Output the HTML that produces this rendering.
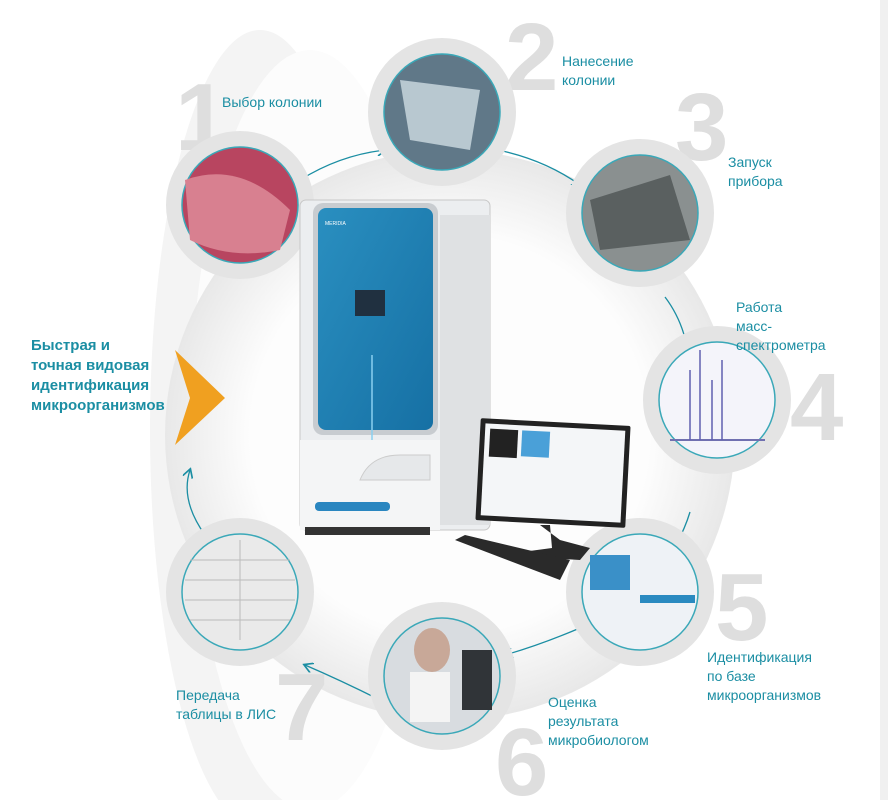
<!DOCTYPE html>
<html><head><meta charset="utf-8"><style>
body{margin:0;background:#fff;width:888px;height:800px;overflow:hidden;font-family:"Liberation Sans",sans-serif}
svg{display:block}
.t{fill:#1b8ea3;font-size:14px}
.n{fill:#dedede;font-size:96px;font-weight:bold}
</style></head><body>
<svg width="888" height="800" viewBox="0 0 888 800">
<defs>
<radialGradient id="bg" cx="0.5" cy="0.5" r="0.5">
<stop offset="0.7" stop-color="#fdfdfd"/><stop offset="1" stop-color="#e8e8e8"/></radialGradient>
<linearGradient id="blue" x1="0" y1="0" x2="1" y2="1"><stop offset="0" stop-color="#2a8fc0"/><stop offset="1" stop-color="#1670a4"/></linearGradient>
<marker id="a" markerWidth="8" markerHeight="8" refX="6" refY="4" orient="auto"><path d="M0,0 L7,4 L0,8" fill="none" stroke="#1b8ea3" stroke-width="1.3"/></marker>
</defs>
<rect width="888" height="800" fill="#fff"/>
<rect x="880" y="0" width="8" height="800" fill="#f0f0f0"/>
<ellipse cx="260" cy="430" rx="110" ry="400" fill="#f4f4f4"/>
<ellipse cx="310" cy="430" rx="120" ry="380" fill="#fcfcfc"/>
<circle cx="450" cy="435" r="285" fill="url(#bg)"/>
<text class="n" x="175" y="150">1</text>
<text class="n" x="505" y="90">2</text>
<text class="n" x="675" y="160">3</text>
<text class="n" x="790" y="440">4</text>
<text class="n" x="715" y="640">5</text>
<text class="n" x="495" y="795">6</text>
<text class="n" x="275" y="740">7</text>
<g fill="none" stroke="#1b8ea3" stroke-width="1.3" marker-end="url(#a)">
<path d="M300,180 Q340,155 385,150"/>
<path d="M498,150 Q545,160 580,185"/>
<path d="M665,297 Q690,330 690,378"/>
<path d="M690,512 Q680,545 655,575"/>
<path d="M580,628 Q540,645 505,655"/>
<path d="M380,700 Q340,680 305,665"/>
<path d="M205,535 Q180,500 190,470"/>
</g>
<g stroke="#e4e4e4" stroke-width="16">
<circle cx="240" cy="205" r="66" fill="#b84560"/>
<circle cx="442" cy="112" r="66" fill="#607888"/>
<circle cx="640" cy="213" r="66" fill="#8a9090"/>
<circle cx="717" cy="400" r="66" fill="#f4f4fa"/>
<circle cx="640" cy="592" r="66" fill="#eef2f6"/>
<circle cx="442" cy="676" r="66" fill="#d8dce0"/>
<circle cx="240" cy="592" r="66" fill="#eaeaea"/>
</g>
<g fill="none" stroke="#3aa8b8" stroke-width="1.5">
<circle cx="240" cy="205" r="58"/><circle cx="442" cy="112" r="58"/><circle cx="640" cy="213" r="58"/>
<circle cx="717" cy="400" r="58"/><circle cx="640" cy="592" r="58"/><circle cx="442" cy="676" r="58"/><circle cx="240" cy="592" r="58"/>
</g>
<path d="M185,180 Q240,160 290,210 L280,250 Q230,260 190,240Z" fill="#d88090"/>
<path d="M400,80 L480,90 L470,150 L410,140Z" fill="#b8c8d0"/>
<path d="M590,200 L670,175 L690,240 L600,250Z" fill="#5a6060"/>
<path d="M670,440 L765,440" stroke="#7070b0" stroke-width="2"/>
<path d="M690,440 V370 M700,440 V350 M712,440 V380 M722,440 V360" stroke="#6060b0" stroke-width="1.5"/>
<rect x="590" y="555" width="40" height="35" fill="#3a90c8"/>
<rect x="640" y="595" width="55" height="8" fill="#2a8ac0"/>
<rect x="462" y="650" width="30" height="60" fill="#303438"/>
<ellipse cx="432" cy="650" rx="18" ry="22" fill="#c8a898"/>
<rect x="410" y="672" width="40" height="50" fill="#f4f4f4"/>
<g stroke="#bbb" stroke-width="1"><line x1="190" y1="560" x2="290" y2="560"/><line x1="185" y1="580" x2="295" y2="580"/><line x1="185" y1="600" x2="295" y2="600"/><line x1="190" y1="620" x2="290" y2="620"/><line x1="240" y1="540" x2="240" y2="640"/></g>
<rect x="300" y="200" width="190" height="330" rx="6" fill="#eceef0" stroke="#c8c8c8"/>
<rect x="440" y="215" width="50" height="310" fill="#dfe1e3"/>
<rect x="313" y="203" width="125" height="232" rx="10" fill="#c8ccd0"/>
<rect x="318" y="208" width="115" height="222" rx="8" fill="url(#blue)"/>
<rect x="355" y="290" width="30" height="26" fill="#203040"/>
<line x1="372" y1="355" x2="372" y2="455" stroke="#8ad0f0" stroke-width="1.5"/>
<text x="325" y="225" fill="#fff" font-size="5">MERIDIA</text>
<rect x="300" y="440" width="140" height="90" fill="#f4f5f6"/>
<path d="M360,480 Q370,455 400,455 L430,455 L430,480Z" fill="#e6e8ea" stroke="#ccc"/>
<rect x="315" y="502" width="75" height="9" rx="4" fill="#2a86c0"/>
<rect x="305" y="527" width="125" height="8" fill="#333"/>
<rect x="478" y="422" width="150" height="102" rx="2" fill="#222" transform="rotate(3 553 473)"/>
<rect x="483" y="427" width="140" height="92" fill="#f4f6f8" transform="rotate(3 553 473)"/>
<rect x="488" y="432" width="28" height="28" fill="#222" transform="rotate(3 553 473)"/>
<rect x="520" y="432" width="28" height="26" fill="#4aa0d8" transform="rotate(3 553 473)"/>
<path d="M540,525 L550,525 L552,548 L500,555 L580,560 L590,548 L560,540Z" fill="#2a2a2a"/>
<path d="M455,540 L465,535 L570,560 L560,580Z" fill="#2a2a2a"/>
<path d="M175,350 L225,398 L175,445 L190,398Z" fill="#f0a020"/>
<text class="t" x="222" y="107">Выбор колонии</text>
<text class="t"><tspan x="562" y="66">Нанесение</tspan><tspan x="562" y="85">колонии</tspan></text>
<text class="t"><tspan x="728" y="167">Запуск</tspan><tspan x="728" y="186">прибора</tspan></text>
<text class="t"><tspan x="736" y="312">Работа</tspan><tspan x="736" y="331">масс-</tspan><tspan x="736" y="350">спектрометра</tspan></text>
<text class="t"><tspan x="707" y="662">Идентификация</tspan><tspan x="707" y="681">по базе</tspan><tspan x="707" y="700">микроорганизмов</tspan></text>
<text class="t"><tspan x="548" y="707">Оценка</tspan><tspan x="548" y="726">результата</tspan><tspan x="548" y="745">микробиологом</tspan></text>
<text class="t"><tspan x="176" y="700">Передача</tspan><tspan x="176" y="719">таблицы в ЛИС</tspan></text>
<text class="t" style="font-weight:bold;font-size:15px"><tspan x="31" y="350">Быстрая и</tspan><tspan x="31" y="370">точная видовая</tspan><tspan x="31" y="390">идентификация</tspan><tspan x="31" y="410">микроорганизмов</tspan></text>
</svg>
</body></html>
